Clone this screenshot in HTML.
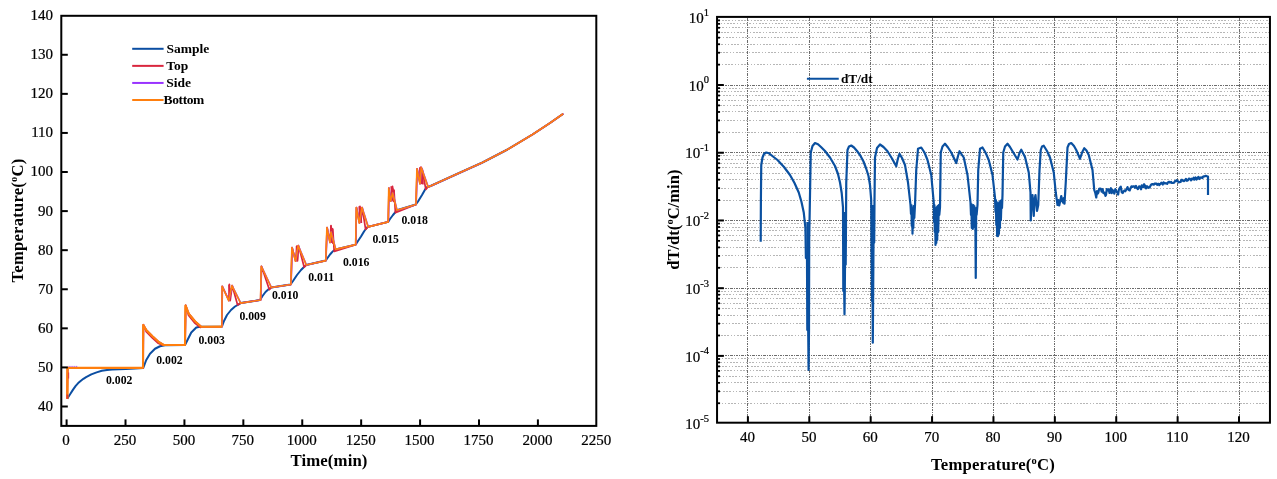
<!DOCTYPE html>
<html lang="en"><head><meta charset="utf-8"><title>ARC heat-wait-search charts</title>
<style>html,body{margin:0;padding:0;background:#fff}svg{display:block}</style></head>
<body>
<svg width="1277" height="479" viewBox="0 0 1277 479">
<rect width="1277" height="479" fill="#fff"/>
<g id="left">
<polyline points="67.30,398.60 68.80,396.20 70.40,393.80 73.05,389.60 75.70,385.90 78.20,383.10 80.90,380.70 83.40,378.80 86.10,377.10 91.30,374.40 96.60,372.35 101.80,370.80 107.00,369.95 112.20,369.40 125.80,368.90 135.00,368.40 143.25,367.90 146.25,360.00 150.00,353.75 155.00,348.75 160.00,346.25 165.00,345.25 185.00,345.00 187.50,340.00 191.25,332.50 196.25,327.50 200.00,326.75 221.90,326.60 224.00,321.00 227.00,315.00 231.00,310.00 235.00,306.50 238.75,304.40 240.60,303.10 260.00,300.00 262.50,296.00 265.50,292.00 268.50,289.30 271.25,287.50 290.50,284.50 293.00,281.00 297.00,275.00 301.00,270.00 304.50,266.50 306.25,265.00 325.60,260.60 327.50,258.00 330.00,254.50 333.00,251.20 335.60,249.40 355.60,244.60 358.00,241.00 361.00,236.50 364.00,231.50 366.90,227.50 368.10,226.90 388.10,221.90 390.00,219.00 393.00,215.00 396.90,210.30 415.80,204.50 418.00,201.50 422.00,195.00 426.25,187.50 428.00,186.90 430.00,186.25 457.50,173.75 482.50,162.50 507.50,149.50 532.50,134.50 550.00,123.00 563.25,113.75" fill="none" stroke="#0b4ea2" stroke-width="2.0" stroke-linejoin="round" />
<polyline points="229.00,284.60 229.70,299.21 230.40,288.55" fill="none" stroke="#d9263e" stroke-width="1.6" stroke-linejoin="round" />
<polyline points="296.60,246.00 297.30,259.88 298.00,249.75" fill="none" stroke="#d9263e" stroke-width="1.6" stroke-linejoin="round" />
<polyline points="330.80,225.60 331.53,242.16 332.27,228.67 333.00,244.00" fill="none" stroke="#d9263e" stroke-width="1.6" stroke-linejoin="round" />
<polyline points="359.20,206.20 359.93,221.32 360.67,209.00 361.40,223.00" fill="none" stroke="#d9263e" stroke-width="1.6" stroke-linejoin="round" />
<polyline points="391.20,186.30 391.95,200.23 392.70,188.26 393.45,201.41 394.20,190.23" fill="none" stroke="#d9263e" stroke-width="1.6" stroke-linejoin="round" />
<polyline points="419.80,167.30 420.44,182.44 421.08,169.02 421.72,183.47 422.36,170.74 423.00,184.50" fill="none" stroke="#d9263e" stroke-width="1.6" stroke-linejoin="round" />
<polyline points="67.30,398.50 67.60,367.80 143.00,367.90 143.40,324.50 146.20,331.60 152.30,337.80 158.30,343.30 162.50,345.20 185.00,345.00 185.70,305.00 188.50,315.20 194.50,322.80 200.30,327.40 202.00,326.75 221.90,326.60 222.30,286.25 228.90,300.60 229.40,284.40 230.20,300.60 232.20,285.60 237.60,304.90 240.60,303.10 260.60,300.00 261.50,266.25 269.30,289.60 271.25,287.50 290.90,284.50 292.10,247.50 295.60,261.25 296.80,246.00 297.50,261.00 298.50,245.60 304.20,267.20 306.25,265.00 325.80,260.60 327.10,227.50 330.00,242.50 331.00,225.60 332.00,236.00 332.80,229.00 334.20,251.40 355.70,244.60 356.50,207.50 359.40,223.00 360.00,206.25 360.90,222.00 362.20,207.50 365.60,229.40 368.10,226.90 388.20,221.90 389.00,188.10 390.60,201.25 392.50,186.25 393.40,196.00 394.00,190.00 395.40,212.60 416.00,204.50 417.10,168.75 420.00,183.75 420.90,167.00 421.80,180.00 422.20,169.00 425.80,189.40 428.00,186.90 430.00,186.25 457.50,173.75 482.50,162.50 507.50,149.50 532.50,134.50 550.00,123.00 563.25,113.75" fill="none" stroke="#d9263e" stroke-width="1.7" stroke-linejoin="round" />
<polyline points="67.00,398.50 67.75,367.85 143.25,367.85 143.50,324.95 146.50,329.95 152.75,336.20 159.00,341.95 164.00,344.95 185.25,344.95 185.75,305.45 189.00,313.70 195.25,321.20 201.50,326.70 222.15,326.55 222.35,286.20 229.00,300.55 232.15,285.55 240.85,303.05 260.85,299.95 261.50,266.20 271.50,287.45 291.15,284.45 292.15,247.45 295.85,261.20 298.35,245.55 306.50,264.95 326.05,260.55 327.15,227.45 330.25,242.45 331.25,231.95 335.85,249.35 355.95,244.55 356.50,207.45 359.65,222.95 362.15,207.45 368.35,226.85 388.45,221.85 389.00,188.05 390.85,201.20 392.85,192.95 397.15,210.25 416.25,204.45 417.15,168.70 420.25,183.70 421.50,167.45 428.25,186.85 430.25,186.20 457.75,173.70 482.75,162.45 507.75,149.45 532.75,134.45 550.25,122.95 563.50,113.70" fill="none" stroke="#9933ff" stroke-width="1.5" stroke-linejoin="round" />
<polyline points="67.30,398.70 67.50,367.90 143.00,367.90 143.25,325.00 146.25,330.00 152.50,336.25 158.75,342.00 163.75,345.00 185.00,345.00 185.50,305.50 188.75,313.75 195.00,321.25 201.25,326.75 221.90,326.60 222.10,286.25 228.75,300.60 231.90,285.60 240.60,303.10 260.60,300.00 261.25,266.25 271.25,287.50 290.90,284.50 291.90,247.50 295.60,261.25 298.10,245.60 306.25,265.00 325.80,260.60 326.90,227.50 330.00,242.50 331.00,232.00 335.60,249.40 355.70,244.60 356.25,207.50 359.40,223.00 361.90,207.50 368.10,226.90 388.20,221.90 388.75,188.10 390.60,201.25 392.60,193.00 396.90,210.30 416.00,204.50 416.90,168.75 420.00,183.75 421.25,167.50 428.00,186.90 430.00,186.25 457.50,173.75 482.50,162.50 507.50,149.50 532.50,134.50 550.00,123.00 563.25,113.75" fill="none" stroke="#ff7f0e" stroke-width="1.65" stroke-linejoin="round" />
<polyline points="67.30,398.70 67.50,367.90 143.00,367.90" fill="none" stroke="#ff7f0e" stroke-width="2.3" stroke-linejoin="round" />
<polyline points="143.00,367.90 143.25,325.00 146.25,330.00 152.50,336.25 158.75,342.00 163.75,345.00 185.00,345.00 185.50,305.50 188.75,313.75 195.00,321.25 201.25,326.75 221.90,326.60" fill="none" stroke="#ff7f0e" stroke-width="2.1" stroke-linejoin="round" />
<line x1="68.6" x2="78" y1="366.4" y2="366.4" stroke="#9933ff" stroke-width="0.9" stroke-dasharray="1 0.9"/>
<line x1="68.7" x2="68.7" y1="372.5" y2="378.5" stroke="#d9263e" stroke-width="0.8"/>
<line x1="67.3" x2="67.3" y1="394.5" y2="398.8" stroke="#d9263e" stroke-width="1.6" opacity="0.8"/>
<rect x="61.3" y="15.8" width="535.00" height="410.10" fill="none" stroke="#000" stroke-width="2"/>
<line x1="61.3" x2="67.8" y1="406.50" y2="406.50" stroke="#000" stroke-width="2"/>
<line x1="61.3" x2="67.8" y1="367.42" y2="367.42" stroke="#000" stroke-width="2"/>
<line x1="61.3" x2="67.8" y1="328.34" y2="328.34" stroke="#000" stroke-width="2"/>
<line x1="61.3" x2="67.8" y1="289.26" y2="289.26" stroke="#000" stroke-width="2"/>
<line x1="61.3" x2="67.8" y1="250.18" y2="250.18" stroke="#000" stroke-width="2"/>
<line x1="61.3" x2="67.8" y1="211.10" y2="211.10" stroke="#000" stroke-width="2"/>
<line x1="61.3" x2="67.8" y1="172.02" y2="172.02" stroke="#000" stroke-width="2"/>
<line x1="61.3" x2="67.8" y1="132.94" y2="132.94" stroke="#000" stroke-width="2"/>
<line x1="61.3" x2="67.8" y1="93.86" y2="93.86" stroke="#000" stroke-width="2"/>
<line x1="61.3" x2="67.8" y1="54.78" y2="54.78" stroke="#000" stroke-width="2"/>
<text x="53.1" y="411.40" text-anchor="end" font-family="Liberation Serif, serif" stroke="#000" stroke-width="0.22" font-size="15">40</text>
<text x="53.1" y="372.22" text-anchor="end" font-family="Liberation Serif, serif" stroke="#000" stroke-width="0.22" font-size="15">50</text>
<text x="53.1" y="333.04" text-anchor="end" font-family="Liberation Serif, serif" stroke="#000" stroke-width="0.22" font-size="15">60</text>
<text x="53.1" y="293.86" text-anchor="end" font-family="Liberation Serif, serif" stroke="#000" stroke-width="0.22" font-size="15">70</text>
<text x="53.1" y="254.68" text-anchor="end" font-family="Liberation Serif, serif" stroke="#000" stroke-width="0.22" font-size="15">80</text>
<text x="53.1" y="215.50" text-anchor="end" font-family="Liberation Serif, serif" stroke="#000" stroke-width="0.22" font-size="15">90</text>
<text x="53.1" y="176.32" text-anchor="end" font-family="Liberation Serif, serif" stroke="#000" stroke-width="0.22" font-size="15">100</text>
<text x="53.1" y="137.14" text-anchor="end" font-family="Liberation Serif, serif" stroke="#000" stroke-width="0.22" font-size="15">110</text>
<text x="53.1" y="97.96" text-anchor="end" font-family="Liberation Serif, serif" stroke="#000" stroke-width="0.22" font-size="15">120</text>
<text x="53.1" y="58.78" text-anchor="end" font-family="Liberation Serif, serif" stroke="#000" stroke-width="0.22" font-size="15">130</text>
<text x="53.1" y="19.60" text-anchor="end" font-family="Liberation Serif, serif" stroke="#000" stroke-width="0.22" font-size="15">140</text>
<line x1="66.60" x2="66.60" y1="425.9" y2="419.4" stroke="#000" stroke-width="2"/>
<line x1="125.51" x2="125.51" y1="425.9" y2="419.4" stroke="#000" stroke-width="2"/>
<line x1="184.43" x2="184.43" y1="425.9" y2="419.4" stroke="#000" stroke-width="2"/>
<line x1="243.34" x2="243.34" y1="425.9" y2="419.4" stroke="#000" stroke-width="2"/>
<line x1="302.25" x2="302.25" y1="425.9" y2="419.4" stroke="#000" stroke-width="2"/>
<line x1="361.16" x2="361.16" y1="425.9" y2="419.4" stroke="#000" stroke-width="2"/>
<line x1="420.08" x2="420.08" y1="425.9" y2="419.4" stroke="#000" stroke-width="2"/>
<line x1="478.99" x2="478.99" y1="425.9" y2="419.4" stroke="#000" stroke-width="2"/>
<line x1="537.90" x2="537.90" y1="425.9" y2="419.4" stroke="#000" stroke-width="2"/>
<text x="66.10" y="445.3" text-anchor="middle" font-family="Liberation Serif, serif" stroke="#000" stroke-width="0.22" font-size="15">0</text>
<text x="125.01" y="445.3" text-anchor="middle" font-family="Liberation Serif, serif" stroke="#000" stroke-width="0.22" font-size="15">250</text>
<text x="183.93" y="445.3" text-anchor="middle" font-family="Liberation Serif, serif" stroke="#000" stroke-width="0.22" font-size="15">500</text>
<text x="242.84" y="445.3" text-anchor="middle" font-family="Liberation Serif, serif" stroke="#000" stroke-width="0.22" font-size="15">750</text>
<text x="301.75" y="445.3" text-anchor="middle" font-family="Liberation Serif, serif" stroke="#000" stroke-width="0.22" font-size="15">1000</text>
<text x="360.66" y="445.3" text-anchor="middle" font-family="Liberation Serif, serif" stroke="#000" stroke-width="0.22" font-size="15">1250</text>
<text x="419.58" y="445.3" text-anchor="middle" font-family="Liberation Serif, serif" stroke="#000" stroke-width="0.22" font-size="15">1500</text>
<text x="478.49" y="445.3" text-anchor="middle" font-family="Liberation Serif, serif" stroke="#000" stroke-width="0.22" font-size="15">1750</text>
<text x="537.40" y="445.3" text-anchor="middle" font-family="Liberation Serif, serif" stroke="#000" stroke-width="0.22" font-size="15">2000</text>
<text x="596.31" y="445.3" text-anchor="middle" font-family="Liberation Serif, serif" stroke="#000" stroke-width="0.22" font-size="15">2250</text>
<text x="329" y="466" text-anchor="middle" font-family="Liberation Serif, serif" font-size="16.8" font-weight="bold" letter-spacing="0.1">Time(min)</text>
<text transform="translate(23.4,220.5) rotate(-90)" text-anchor="middle" font-family="Liberation Serif, serif" font-size="16.7" font-weight="bold" letter-spacing="0.18">Temperature(<tspan font-size="10.5" dy="-6">o</tspan><tspan dy="6">C)</tspan></text>
<line x1="132.2" x2="163.6" y1="48.80" y2="48.80" stroke="#0b4ea2" stroke-width="2"/>
<text x="166.4" y="53.00" font-family="Liberation Serif, serif" font-size="13.5" font-weight="bold" letter-spacing="0">Sample</text>
<line x1="132.2" x2="163.6" y1="65.87" y2="65.87" stroke="#d9263e" stroke-width="2"/>
<text x="166.2" y="70.07" font-family="Liberation Serif, serif" font-size="13.5" font-weight="bold" letter-spacing="0">Top</text>
<line x1="132.2" x2="163.6" y1="82.94" y2="82.94" stroke="#9933ff" stroke-width="2"/>
<text x="166.2" y="87.14" font-family="Liberation Serif, serif" font-size="13.5" font-weight="bold" letter-spacing="0">Side</text>
<line x1="132.2" x2="163.6" y1="100.01" y2="100.01" stroke="#ff7f0e" stroke-width="2"/>
<text x="163.6" y="104.21" font-family="Liberation Serif, serif" font-size="13.5" font-weight="bold" letter-spacing="-0.4">Bottom</text>
<text transform="translate(106,384) scale(0.98,1.06)" font-family="Liberation Serif, serif" font-size="12" font-weight="bold">0.002</text>
<text transform="translate(156.25,364.25) scale(0.98,1.06)" font-family="Liberation Serif, serif" font-size="12" font-weight="bold">0.002</text>
<text transform="translate(198.5,343.5) scale(0.98,1.06)" font-family="Liberation Serif, serif" font-size="12" font-weight="bold">0.003</text>
<text transform="translate(239.4,320.0) scale(0.98,1.06)" font-family="Liberation Serif, serif" font-size="12" font-weight="bold">0.009</text>
<text transform="translate(272,299.4) scale(0.98,1.06)" font-family="Liberation Serif, serif" font-size="12" font-weight="bold">0.010</text>
<text transform="translate(308.25,281.4) scale(0.98,1.06)" font-family="Liberation Serif, serif" font-size="12" font-weight="bold">0.011</text>
<text transform="translate(343,265.6) scale(0.98,1.06)" font-family="Liberation Serif, serif" font-size="12" font-weight="bold">0.016</text>
<text transform="translate(372.5,243.1) scale(0.98,1.06)" font-family="Liberation Serif, serif" font-size="12" font-weight="bold">0.015</text>
<text transform="translate(401.5,223.6) scale(0.98,1.06)" font-family="Liberation Serif, serif" font-size="12" font-weight="bold">0.018</text>
</g>
<g id="right">
<line x1="719" x2="1269" y1="403.50" y2="403.50" stroke="#b6b6b6" stroke-width="1" stroke-dasharray="2 1 2 1 2 2 1 2 1 2" stroke-dashoffset="7"/>
<line x1="719" x2="1269" y1="391.50" y2="391.50" stroke="#b6b6b6" stroke-width="1" stroke-dasharray="2 1 2 1 2 2 1 2 1 2" stroke-dashoffset="12"/>
<line x1="719" x2="1269" y1="382.50" y2="382.50" stroke="#b6b6b6" stroke-width="1" stroke-dasharray="2 1 2 1 2 2 1 2 1 2" stroke-dashoffset="1"/>
<line x1="719" x2="1269" y1="376.50" y2="376.50" stroke="#b6b6b6" stroke-width="1" stroke-dasharray="2 1 2 1 2 2 1 2 1 2" stroke-dashoffset="6"/>
<line x1="719" x2="1269" y1="370.50" y2="370.50" stroke="#b6b6b6" stroke-width="1" stroke-dasharray="2 1 2 1 2 2 1 2 1 2" stroke-dashoffset="11"/>
<line x1="719" x2="1269" y1="366.50" y2="366.50" stroke="#b6b6b6" stroke-width="1" stroke-dasharray="2 1 2 1 2 2 1 2 1 2" stroke-dashoffset="0"/>
<line x1="719" x2="1269" y1="362.50" y2="362.50" stroke="#b6b6b6" stroke-width="1" stroke-dasharray="2 1 2 1 2 2 1 2 1 2" stroke-dashoffset="5"/>
<line x1="719" x2="1269" y1="358.50" y2="358.50" stroke="#b6b6b6" stroke-width="1" stroke-dasharray="2 1 2 1 2 2 1 2 1 2" stroke-dashoffset="10"/>
<line x1="719" x2="1269" y1="335.50" y2="335.50" stroke="#b6b6b6" stroke-width="1" stroke-dasharray="2 1 2 1 2 2 1 2 1 2" stroke-dashoffset="14"/>
<line x1="719" x2="1269" y1="323.50" y2="323.50" stroke="#b6b6b6" stroke-width="1" stroke-dasharray="2 1 2 1 2 2 1 2 1 2" stroke-dashoffset="3"/>
<line x1="719" x2="1269" y1="315.50" y2="315.50" stroke="#b6b6b6" stroke-width="1" stroke-dasharray="2 1 2 1 2 2 1 2 1 2" stroke-dashoffset="8"/>
<line x1="719" x2="1269" y1="308.50" y2="308.50" stroke="#b6b6b6" stroke-width="1" stroke-dasharray="2 1 2 1 2 2 1 2 1 2" stroke-dashoffset="13"/>
<line x1="719" x2="1269" y1="303.50" y2="303.50" stroke="#b6b6b6" stroke-width="1" stroke-dasharray="2 1 2 1 2 2 1 2 1 2" stroke-dashoffset="2"/>
<line x1="719" x2="1269" y1="298.50" y2="298.50" stroke="#b6b6b6" stroke-width="1" stroke-dasharray="2 1 2 1 2 2 1 2 1 2" stroke-dashoffset="7"/>
<line x1="719" x2="1269" y1="294.50" y2="294.50" stroke="#b6b6b6" stroke-width="1" stroke-dasharray="2 1 2 1 2 2 1 2 1 2" stroke-dashoffset="12"/>
<line x1="719" x2="1269" y1="291.50" y2="291.50" stroke="#b6b6b6" stroke-width="1" stroke-dasharray="2 1 2 1 2 2 1 2 1 2" stroke-dashoffset="1"/>
<line x1="719" x2="1269" y1="267.50" y2="267.50" stroke="#b6b6b6" stroke-width="1" stroke-dasharray="2 1 2 1 2 2 1 2 1 2" stroke-dashoffset="5"/>
<line x1="719" x2="1269" y1="255.50" y2="255.50" stroke="#b6b6b6" stroke-width="1" stroke-dasharray="2 1 2 1 2 2 1 2 1 2" stroke-dashoffset="10"/>
<line x1="719" x2="1269" y1="247.50" y2="247.50" stroke="#b6b6b6" stroke-width="1" stroke-dasharray="2 1 2 1 2 2 1 2 1 2" stroke-dashoffset="15"/>
<line x1="719" x2="1269" y1="240.50" y2="240.50" stroke="#b6b6b6" stroke-width="1" stroke-dasharray="2 1 2 1 2 2 1 2 1 2" stroke-dashoffset="4"/>
<line x1="719" x2="1269" y1="235.50" y2="235.50" stroke="#b6b6b6" stroke-width="1" stroke-dasharray="2 1 2 1 2 2 1 2 1 2" stroke-dashoffset="9"/>
<line x1="719" x2="1269" y1="230.50" y2="230.50" stroke="#b6b6b6" stroke-width="1" stroke-dasharray="2 1 2 1 2 2 1 2 1 2" stroke-dashoffset="14"/>
<line x1="719" x2="1269" y1="227.50" y2="227.50" stroke="#b6b6b6" stroke-width="1" stroke-dasharray="2 1 2 1 2 2 1 2 1 2" stroke-dashoffset="3"/>
<line x1="719" x2="1269" y1="223.50" y2="223.50" stroke="#b6b6b6" stroke-width="1" stroke-dasharray="2 1 2 1 2 2 1 2 1 2" stroke-dashoffset="8"/>
<line x1="719" x2="1269" y1="200.50" y2="200.50" stroke="#b6b6b6" stroke-width="1" stroke-dasharray="2 1 2 1 2 2 1 2 1 2" stroke-dashoffset="12"/>
<line x1="719" x2="1269" y1="188.50" y2="188.50" stroke="#b6b6b6" stroke-width="1" stroke-dasharray="2 1 2 1 2 2 1 2 1 2" stroke-dashoffset="1"/>
<line x1="719" x2="1269" y1="179.50" y2="179.50" stroke="#b6b6b6" stroke-width="1" stroke-dasharray="2 1 2 1 2 2 1 2 1 2" stroke-dashoffset="6"/>
<line x1="719" x2="1269" y1="173.50" y2="173.50" stroke="#b6b6b6" stroke-width="1" stroke-dasharray="2 1 2 1 2 2 1 2 1 2" stroke-dashoffset="11"/>
<line x1="719" x2="1269" y1="167.50" y2="167.50" stroke="#b6b6b6" stroke-width="1" stroke-dasharray="2 1 2 1 2 2 1 2 1 2" stroke-dashoffset="0"/>
<line x1="719" x2="1269" y1="163.50" y2="163.50" stroke="#b6b6b6" stroke-width="1" stroke-dasharray="2 1 2 1 2 2 1 2 1 2" stroke-dashoffset="5"/>
<line x1="719" x2="1269" y1="159.50" y2="159.50" stroke="#b6b6b6" stroke-width="1" stroke-dasharray="2 1 2 1 2 2 1 2 1 2" stroke-dashoffset="10"/>
<line x1="719" x2="1269" y1="155.50" y2="155.50" stroke="#b6b6b6" stroke-width="1" stroke-dasharray="2 1 2 1 2 2 1 2 1 2" stroke-dashoffset="15"/>
<line x1="719" x2="1269" y1="132.50" y2="132.50" stroke="#b6b6b6" stroke-width="1" stroke-dasharray="2 1 2 1 2 2 1 2 1 2" stroke-dashoffset="3"/>
<line x1="719" x2="1269" y1="120.50" y2="120.50" stroke="#b6b6b6" stroke-width="1" stroke-dasharray="2 1 2 1 2 2 1 2 1 2" stroke-dashoffset="8"/>
<line x1="719" x2="1269" y1="111.50" y2="111.50" stroke="#b6b6b6" stroke-width="1" stroke-dasharray="2 1 2 1 2 2 1 2 1 2" stroke-dashoffset="13"/>
<line x1="719" x2="1269" y1="105.50" y2="105.50" stroke="#b6b6b6" stroke-width="1" stroke-dasharray="2 1 2 1 2 2 1 2 1 2" stroke-dashoffset="2"/>
<line x1="719" x2="1269" y1="100.50" y2="100.50" stroke="#b6b6b6" stroke-width="1" stroke-dasharray="2 1 2 1 2 2 1 2 1 2" stroke-dashoffset="7"/>
<line x1="719" x2="1269" y1="95.50" y2="95.50" stroke="#b6b6b6" stroke-width="1" stroke-dasharray="2 1 2 1 2 2 1 2 1 2" stroke-dashoffset="12"/>
<line x1="719" x2="1269" y1="91.50" y2="91.50" stroke="#b6b6b6" stroke-width="1" stroke-dasharray="2 1 2 1 2 2 1 2 1 2" stroke-dashoffset="1"/>
<line x1="719" x2="1269" y1="88.50" y2="88.50" stroke="#b6b6b6" stroke-width="1" stroke-dasharray="2 1 2 1 2 2 1 2 1 2" stroke-dashoffset="6"/>
<line x1="719" x2="1269" y1="64.50" y2="64.50" stroke="#b6b6b6" stroke-width="1" stroke-dasharray="2 1 2 1 2 2 1 2 1 2" stroke-dashoffset="10"/>
<line x1="719" x2="1269" y1="52.50" y2="52.50" stroke="#b6b6b6" stroke-width="1" stroke-dasharray="2 1 2 1 2 2 1 2 1 2" stroke-dashoffset="15"/>
<line x1="719" x2="1269" y1="44.50" y2="44.50" stroke="#b6b6b6" stroke-width="1" stroke-dasharray="2 1 2 1 2 2 1 2 1 2" stroke-dashoffset="4"/>
<line x1="719" x2="1269" y1="37.50" y2="37.50" stroke="#b6b6b6" stroke-width="1" stroke-dasharray="2 1 2 1 2 2 1 2 1 2" stroke-dashoffset="9"/>
<line x1="719" x2="1269" y1="32.50" y2="32.50" stroke="#b6b6b6" stroke-width="1" stroke-dasharray="2 1 2 1 2 2 1 2 1 2" stroke-dashoffset="14"/>
<line x1="719" x2="1269" y1="27.50" y2="27.50" stroke="#b6b6b6" stroke-width="1" stroke-dasharray="2 1 2 1 2 2 1 2 1 2" stroke-dashoffset="3"/>
<line x1="719" x2="1269" y1="23.50" y2="23.50" stroke="#b6b6b6" stroke-width="1" stroke-dasharray="2 1 2 1 2 2 1 2 1 2" stroke-dashoffset="8"/>
<line x1="719" x2="1269" y1="20.50" y2="20.50" stroke="#b6b6b6" stroke-width="1" stroke-dasharray="2 1 2 1 2 2 1 2 1 2" stroke-dashoffset="13"/>
<line x1="719" x2="1269" y1="355.50" y2="355.50" stroke="#6c6c6c" stroke-width="1" stroke-dasharray="3 1 1 1 2 1 1 1"/>
<line x1="719" x2="1269" y1="288.50" y2="288.50" stroke="#6c6c6c" stroke-width="1" stroke-dasharray="3 1 1 1 2 1 1 1"/>
<line x1="719" x2="1269" y1="220.50" y2="220.50" stroke="#6c6c6c" stroke-width="1" stroke-dasharray="3 1 1 1 2 1 1 1"/>
<line x1="719" x2="1269" y1="152.50" y2="152.50" stroke="#6c6c6c" stroke-width="1" stroke-dasharray="3 1 1 1 2 1 1 1"/>
<line x1="719" x2="1269" y1="85.50" y2="85.50" stroke="#6c6c6c" stroke-width="1" stroke-dasharray="3 1 1 1 2 1 1 1"/>
<line x1="747.50" x2="747.50" y1="18" y2="422" stroke="#6c6c6c" stroke-width="1" stroke-dasharray="3 1 1 1 2 1 1 1"/>
<line x1="809.50" x2="809.50" y1="18" y2="422" stroke="#6c6c6c" stroke-width="1" stroke-dasharray="3 1 1 1 2 1 1 1"/>
<line x1="870.50" x2="870.50" y1="18" y2="422" stroke="#6c6c6c" stroke-width="1" stroke-dasharray="3 1 1 1 2 1 1 1"/>
<line x1="932.50" x2="932.50" y1="18" y2="422" stroke="#6c6c6c" stroke-width="1" stroke-dasharray="3 1 1 1 2 1 1 1"/>
<line x1="993.50" x2="993.50" y1="18" y2="422" stroke="#6c6c6c" stroke-width="1" stroke-dasharray="3 1 1 1 2 1 1 1"/>
<line x1="1054.50" x2="1054.50" y1="18" y2="422" stroke="#6c6c6c" stroke-width="1" stroke-dasharray="3 1 1 1 2 1 1 1"/>
<line x1="1116.50" x2="1116.50" y1="18" y2="422" stroke="#6c6c6c" stroke-width="1" stroke-dasharray="3 1 1 1 2 1 1 1"/>
<line x1="1177.50" x2="1177.50" y1="18" y2="422" stroke="#6c6c6c" stroke-width="1" stroke-dasharray="3 1 1 1 2 1 1 1"/>
<line x1="1239.50" x2="1239.50" y1="18" y2="422" stroke="#6c6c6c" stroke-width="1" stroke-dasharray="3 1 1 1 2 1 1 1"/>
<polyline points="760.70,241.70 760.90,200.00 761.25,165.00 762.50,157.50 764.00,154.00 766.25,152.50 769.00,153.30 773.00,156.50 777.50,160.00 784.00,167.00 790.00,175.00 794.50,183.00 798.75,192.50 801.50,202.00 803.75,212.50 805.40,228.00 805.90,258.00 807.00,258.50 807.30,330.00 808.20,330.00 808.60,370.00 809.00,330.00 809.20,240.00 810.00,195.00 810.75,152.50 812.50,146.00 815.00,143.00 818.00,144.20 821.00,147.00 825.00,151.00 830.00,157.50 835.00,166.00 838.00,174.00 840.00,182.50 841.70,193.00 843.00,207.50 843.30,291.00 844.20,291.50 844.50,314.30 844.80,291.00 845.00,265.00 845.70,264.50 845.90,240.00 846.25,182.50 847.50,150.00 849.00,146.50 851.25,145.50 854.00,147.50 857.00,151.00 860.00,155.00 863.50,161.50 866.25,168.75 868.50,176.00 870.00,185.00 871.20,200.00 871.50,243.00 872.00,301.00 872.60,301.70 872.80,342.70 873.10,301.00 873.50,243.00 874.20,242.50 874.50,200.00 875.00,157.50 877.00,148.00 880.00,144.50 883.50,147.00 887.50,151.25 892.00,158.50 896.25,166.25 897.80,159.00 899.50,153.75 902.00,158.00 905.00,165.00 908.00,182.50 910.50,205.00 911.00,214.00 911.40,205.00 911.80,226.00 912.20,208.00 912.50,233.75 912.90,210.00 913.30,228.00 913.80,206.00 914.30,218.00 915.00,205.00 916.25,170.00 918.00,148.75 921.25,147.50 924.50,152.50 927.50,160.00 931.25,175.00 933.75,202.50 934.00,222.00 934.40,205.00 934.80,232.00 935.20,208.00 935.50,245.00 935.90,210.00 936.30,243.00 936.80,207.00 937.20,240.00 937.70,206.00 938.20,232.00 938.80,205.00 939.30,215.00 940.00,207.50 940.75,152.50 942.50,146.50 945.00,143.75 948.00,147.50 951.25,152.50 956.25,163.00 958.00,156.00 959.50,151.25 963.75,157.50 967.50,175.00 970.50,202.50 971.00,215.00 971.40,204.00 971.80,228.00 972.30,206.00 972.80,229.00 973.30,205.00 973.80,227.00 974.30,206.00 974.80,225.00 975.30,210.00 975.75,278.00 976.20,208.00 976.60,215.00 977.50,205.00 978.25,170.00 980.00,148.75 982.50,147.50 985.50,152.50 988.75,160.00 992.50,175.00 995.00,197.50 995.50,212.00 995.90,200.00 996.30,225.00 996.70,202.00 997.10,236.00 997.50,204.00 997.90,236.25 998.40,203.00 998.90,234.00 999.40,202.00 999.90,228.00 1000.40,201.00 1000.90,220.00 1001.50,200.00 1002.00,208.00 1002.50,195.00 1003.25,152.50 1005.00,146.50 1007.50,143.75 1010.00,147.00 1012.50,151.25 1017.50,159.50 1019.50,153.00 1021.25,149.75 1025.00,157.00 1028.75,172.50 1030.50,192.50 1030.75,220.50 1031.60,200.00 1032.50,195.00 1033.75,216.00 1034.50,200.00 1035.50,195.00 1037.00,211.00 1038.25,205.00 1039.50,170.00 1040.75,150.00 1042.00,146.50 1043.75,145.75 1047.00,151.00 1050.00,157.50 1053.75,172.50 1055.75,192.50 1057.50,205.00 1058.30,200.00 1059.25,205.50 1061.25,196.00 1062.00,200.00 1063.00,202.50 1063.80,198.00 1064.50,203.75 1065.75,182.50 1067.50,147.50 1069.00,144.00 1071.25,143.00 1074.00,146.00 1076.25,150.00 1080.00,158.75 1082.30,152.00 1084.25,148.25 1086.50,150.50 1088.75,155.00 1092.50,170.00 1094.25,190.00 1095.30,193.00 1096.25,197.50 1097.00,191.04 1097.69,193.62 1098.33,192.67 1099.15,188.81 1100.06,188.60 1100.92,188.81 1101.57,191.62 1102.67,189.16 1103.40,193.15 1104.57,192.69 1105.41,195.84 1106.04,194.87 1106.81,189.11 1107.48,190.39 1108.57,189.32 1109.52,192.94 1110.34,192.16 1110.98,188.23 1111.70,193.16 1112.56,190.12 1113.51,191.08 1114.29,193.69 1115.31,189.13 1116.26,191.22 1117.38,192.68 1118.15,194.56 1118.83,189.96 1119.88,187.66 1120.77,186.62 1121.77,192.26 1122.72,193.00 1123.51,191.43 1124.46,190.36 1125.34,191.21 1126.50,189.27 1127.50,187.12 1128.52,189.78 1129.72,190.43 1130.49,188.21 1131.49,186.31 1132.37,186.86 1133.04,186.23 1134.10,186.40 1134.85,187.54 1135.97,185.87 1136.84,187.98 1137.97,189.10 1139.09,186.33 1139.94,186.58 1141.07,189.27 1141.76,185.41 1142.50,185.57 1143.39,187.13 1144.15,184.20 1145.00,185.82 1145.94,188.47 1146.95,186.21 1147.92,186.83 1148.55,187.80 1149.62,187.51 1150.70,185.26 1151.54,184.38 1152.52,184.11 1153.16,184.39 1153.86,184.62 1154.49,183.64 1155.18,183.79 1156.00,183.46 1157.12,184.81 1157.81,183.76 1158.62,183.93 1159.30,185.08 1160.49,183.89 1161.38,182.76 1162.04,183.33 1162.80,184.47 1163.50,182.26 1164.67,183.39 1165.36,183.32 1165.97,183.18 1167.16,183.87 1168.18,182.14 1169.00,181.76 1170.06,182.54 1171.13,181.85 1171.86,182.98 1173.05,182.90 1174.14,182.64 1175.18,180.93 1176.09,181.12 1176.71,180.17 1177.48,180.65 1178.49,182.30 1179.36,182.12 1180.55,181.97 1181.37,179.93 1182.11,179.75 1182.83,180.75 1183.97,181.13 1184.86,180.50 1185.94,178.85 1186.93,180.84 1188.00,180.25 1188.89,178.63 1189.96,178.86 1191.04,180.35 1191.88,178.73 1193.05,179.38 1193.75,177.72 1194.44,179.63 1195.53,177.49 1196.62,179.48 1197.62,177.68 1198.55,176.97 1199.16,179.05 1200.14,177.74 1201.31,177.31 1202.43,178.16 1203.15,176.55 1203.93,176.39 1204.88,176.29 1205.73,175.82 1206.88,176.22 1207.50,176.70 1208.00,176.70 1208.00,195.00" fill="none" stroke="#0a50a0" stroke-width="2.2" stroke-linejoin="round" />
<polyline points="807.60,222.00 807.60,259.00" fill="none" stroke="#0a50a0" stroke-width="2.6" stroke-linejoin="round" />
<polyline points="844.60,212.00 844.60,266.00" fill="none" stroke="#0a50a0" stroke-width="2.2" stroke-linejoin="round" />
<polyline points="872.90,205.00 872.90,244.00" fill="none" stroke="#0a50a0" stroke-width="2.2" stroke-linejoin="round" />
<polyline points="808.30,258.00 808.30,331.00" fill="none" stroke="#0a50a0" stroke-width="1.6" stroke-linejoin="round" />
<polyline points="872.80,243.00 872.80,302.00" fill="none" stroke="#0a50a0" stroke-width="1.4" stroke-linejoin="round" />
<rect x="717.05" y="16.9" width="552.90" height="405.80" fill="none" stroke="#000" stroke-width="2"/>
<line x1="717.05" x2="720.05" y1="403.23" y2="403.23" stroke="#000" stroke-width="1.8"/>
<line x1="717.05" x2="720.05" y1="391.31" y2="391.31" stroke="#000" stroke-width="1.8"/>
<line x1="717.05" x2="720.05" y1="382.85" y2="382.85" stroke="#000" stroke-width="1.8"/>
<line x1="717.05" x2="720.05" y1="376.29" y2="376.29" stroke="#000" stroke-width="1.8"/>
<line x1="717.05" x2="720.05" y1="370.92" y2="370.92" stroke="#000" stroke-width="1.8"/>
<line x1="717.05" x2="720.05" y1="366.39" y2="366.39" stroke="#000" stroke-width="1.8"/>
<line x1="717.05" x2="720.05" y1="362.46" y2="362.46" stroke="#000" stroke-width="1.8"/>
<line x1="717.05" x2="720.05" y1="359.00" y2="359.00" stroke="#000" stroke-width="1.8"/>
<line x1="717.05" x2="720.05" y1="335.51" y2="335.51" stroke="#000" stroke-width="1.8"/>
<line x1="717.05" x2="720.05" y1="323.59" y2="323.59" stroke="#000" stroke-width="1.8"/>
<line x1="717.05" x2="720.05" y1="315.13" y2="315.13" stroke="#000" stroke-width="1.8"/>
<line x1="717.05" x2="720.05" y1="308.57" y2="308.57" stroke="#000" stroke-width="1.8"/>
<line x1="717.05" x2="720.05" y1="303.20" y2="303.20" stroke="#000" stroke-width="1.8"/>
<line x1="717.05" x2="720.05" y1="298.67" y2="298.67" stroke="#000" stroke-width="1.8"/>
<line x1="717.05" x2="720.05" y1="294.74" y2="294.74" stroke="#000" stroke-width="1.8"/>
<line x1="717.05" x2="720.05" y1="291.28" y2="291.28" stroke="#000" stroke-width="1.8"/>
<line x1="717.05" x2="720.05" y1="267.79" y2="267.79" stroke="#000" stroke-width="1.8"/>
<line x1="717.05" x2="720.05" y1="255.87" y2="255.87" stroke="#000" stroke-width="1.8"/>
<line x1="717.05" x2="720.05" y1="247.41" y2="247.41" stroke="#000" stroke-width="1.8"/>
<line x1="717.05" x2="720.05" y1="240.85" y2="240.85" stroke="#000" stroke-width="1.8"/>
<line x1="717.05" x2="720.05" y1="235.48" y2="235.48" stroke="#000" stroke-width="1.8"/>
<line x1="717.05" x2="720.05" y1="230.95" y2="230.95" stroke="#000" stroke-width="1.8"/>
<line x1="717.05" x2="720.05" y1="227.02" y2="227.02" stroke="#000" stroke-width="1.8"/>
<line x1="717.05" x2="720.05" y1="223.56" y2="223.56" stroke="#000" stroke-width="1.8"/>
<line x1="717.05" x2="720.05" y1="200.07" y2="200.07" stroke="#000" stroke-width="1.8"/>
<line x1="717.05" x2="720.05" y1="188.15" y2="188.15" stroke="#000" stroke-width="1.8"/>
<line x1="717.05" x2="720.05" y1="179.69" y2="179.69" stroke="#000" stroke-width="1.8"/>
<line x1="717.05" x2="720.05" y1="173.13" y2="173.13" stroke="#000" stroke-width="1.8"/>
<line x1="717.05" x2="720.05" y1="167.76" y2="167.76" stroke="#000" stroke-width="1.8"/>
<line x1="717.05" x2="720.05" y1="163.23" y2="163.23" stroke="#000" stroke-width="1.8"/>
<line x1="717.05" x2="720.05" y1="159.30" y2="159.30" stroke="#000" stroke-width="1.8"/>
<line x1="717.05" x2="720.05" y1="155.84" y2="155.84" stroke="#000" stroke-width="1.8"/>
<line x1="717.05" x2="720.05" y1="132.35" y2="132.35" stroke="#000" stroke-width="1.8"/>
<line x1="717.05" x2="720.05" y1="120.43" y2="120.43" stroke="#000" stroke-width="1.8"/>
<line x1="717.05" x2="720.05" y1="111.97" y2="111.97" stroke="#000" stroke-width="1.8"/>
<line x1="717.05" x2="720.05" y1="105.41" y2="105.41" stroke="#000" stroke-width="1.8"/>
<line x1="717.05" x2="720.05" y1="100.04" y2="100.04" stroke="#000" stroke-width="1.8"/>
<line x1="717.05" x2="720.05" y1="95.51" y2="95.51" stroke="#000" stroke-width="1.8"/>
<line x1="717.05" x2="720.05" y1="91.58" y2="91.58" stroke="#000" stroke-width="1.8"/>
<line x1="717.05" x2="720.05" y1="88.12" y2="88.12" stroke="#000" stroke-width="1.8"/>
<line x1="717.05" x2="720.05" y1="64.63" y2="64.63" stroke="#000" stroke-width="1.8"/>
<line x1="717.05" x2="720.05" y1="52.71" y2="52.71" stroke="#000" stroke-width="1.8"/>
<line x1="717.05" x2="720.05" y1="44.25" y2="44.25" stroke="#000" stroke-width="1.8"/>
<line x1="717.05" x2="720.05" y1="37.69" y2="37.69" stroke="#000" stroke-width="1.8"/>
<line x1="717.05" x2="720.05" y1="32.32" y2="32.32" stroke="#000" stroke-width="1.8"/>
<line x1="717.05" x2="720.05" y1="27.79" y2="27.79" stroke="#000" stroke-width="1.8"/>
<line x1="717.05" x2="720.05" y1="23.86" y2="23.86" stroke="#000" stroke-width="1.8"/>
<line x1="717.05" x2="720.05" y1="20.40" y2="20.40" stroke="#000" stroke-width="1.8"/>
<line x1="717.05" x2="723.8499999999999" y1="355.90" y2="355.90" stroke="#000" stroke-width="2"/>
<line x1="717.05" x2="723.8499999999999" y1="288.18" y2="288.18" stroke="#000" stroke-width="2"/>
<line x1="717.05" x2="723.8499999999999" y1="220.46" y2="220.46" stroke="#000" stroke-width="2"/>
<line x1="717.05" x2="723.8499999999999" y1="152.74" y2="152.74" stroke="#000" stroke-width="2"/>
<line x1="717.05" x2="723.8499999999999" y1="85.02" y2="85.02" stroke="#000" stroke-width="2"/>
<text x="709" y="429.22" text-anchor="end" font-family="Liberation Serif, serif" stroke="#000" stroke-width="0.22" font-size="15">10<tspan font-size="10.5" dy="-7.2">-5</tspan></text>
<text x="709" y="361.50" text-anchor="end" font-family="Liberation Serif, serif" stroke="#000" stroke-width="0.22" font-size="15">10<tspan font-size="10.5" dy="-7.2">-4</tspan></text>
<text x="709" y="293.78" text-anchor="end" font-family="Liberation Serif, serif" stroke="#000" stroke-width="0.22" font-size="15">10<tspan font-size="10.5" dy="-7.2">-3</tspan></text>
<text x="709" y="226.06" text-anchor="end" font-family="Liberation Serif, serif" stroke="#000" stroke-width="0.22" font-size="15">10<tspan font-size="10.5" dy="-7.2">-2</tspan></text>
<text x="709" y="158.34" text-anchor="end" font-family="Liberation Serif, serif" stroke="#000" stroke-width="0.22" font-size="15">10<tspan font-size="10.5" dy="-7.2">-1</tspan></text>
<text x="709" y="90.62" text-anchor="end" font-family="Liberation Serif, serif" stroke="#000" stroke-width="0.22" font-size="15">10<tspan font-size="10.5" dy="-7.2">0</tspan></text>
<text x="709" y="22.90" text-anchor="end" font-family="Liberation Serif, serif" stroke="#000" stroke-width="0.22" font-size="15">10<tspan font-size="10.5" dy="-7.2">1</tspan></text>
<line x1="747.90" x2="747.90" y1="422.7" y2="416.2" stroke="#000" stroke-width="2"/>
<text x="747.50" y="442.2" text-anchor="middle" font-family="Liberation Serif, serif" stroke="#000" stroke-width="0.22" font-size="15">40</text>
<line x1="809.29" x2="809.29" y1="422.7" y2="416.2" stroke="#000" stroke-width="2"/>
<text x="808.89" y="442.2" text-anchor="middle" font-family="Liberation Serif, serif" stroke="#000" stroke-width="0.22" font-size="15">50</text>
<line x1="870.68" x2="870.68" y1="422.7" y2="416.2" stroke="#000" stroke-width="2"/>
<text x="870.28" y="442.2" text-anchor="middle" font-family="Liberation Serif, serif" stroke="#000" stroke-width="0.22" font-size="15">60</text>
<line x1="932.06" x2="932.06" y1="422.7" y2="416.2" stroke="#000" stroke-width="2"/>
<text x="931.66" y="442.2" text-anchor="middle" font-family="Liberation Serif, serif" stroke="#000" stroke-width="0.22" font-size="15">70</text>
<line x1="993.45" x2="993.45" y1="422.7" y2="416.2" stroke="#000" stroke-width="2"/>
<text x="993.05" y="442.2" text-anchor="middle" font-family="Liberation Serif, serif" stroke="#000" stroke-width="0.22" font-size="15">80</text>
<line x1="1054.84" x2="1054.84" y1="422.7" y2="416.2" stroke="#000" stroke-width="2"/>
<text x="1054.44" y="442.2" text-anchor="middle" font-family="Liberation Serif, serif" stroke="#000" stroke-width="0.22" font-size="15">90</text>
<line x1="1116.23" x2="1116.23" y1="422.7" y2="416.2" stroke="#000" stroke-width="2"/>
<text x="1115.83" y="442.2" text-anchor="middle" font-family="Liberation Serif, serif" stroke="#000" stroke-width="0.22" font-size="15">100</text>
<line x1="1177.62" x2="1177.62" y1="422.7" y2="416.2" stroke="#000" stroke-width="2"/>
<text x="1177.22" y="442.2" text-anchor="middle" font-family="Liberation Serif, serif" stroke="#000" stroke-width="0.22" font-size="15">110</text>
<line x1="1239.00" x2="1239.00" y1="422.7" y2="416.2" stroke="#000" stroke-width="2"/>
<text x="1238.60" y="442.2" text-anchor="middle" font-family="Liberation Serif, serif" stroke="#000" stroke-width="0.22" font-size="15">120</text>
<text x="993" y="470" text-anchor="middle" font-family="Liberation Serif, serif" font-size="16.7" font-weight="bold" letter-spacing="0.18">Temperature(<tspan font-size="10.5" dy="-6">o</tspan><tspan dy="6">C)</tspan></text>
<text transform="translate(679.4,219.7) rotate(-90)" text-anchor="middle" font-family="Liberation Serif, serif" font-size="16.6" font-weight="bold">dT/dt(<tspan font-size="10.5" dy="-6">o</tspan><tspan dy="6">C/min)</tspan></text>
<line x1="806.9" x2="838.75" y1="78.75" y2="78.75" stroke="#0a50a0" stroke-width="2.2"/>
<text x="841" y="82.8" font-family="Liberation Serif, serif" font-size="13.3" font-weight="bold" letter-spacing="-0.05">dT/dt</text>
</g>
</svg>
</body></html>
